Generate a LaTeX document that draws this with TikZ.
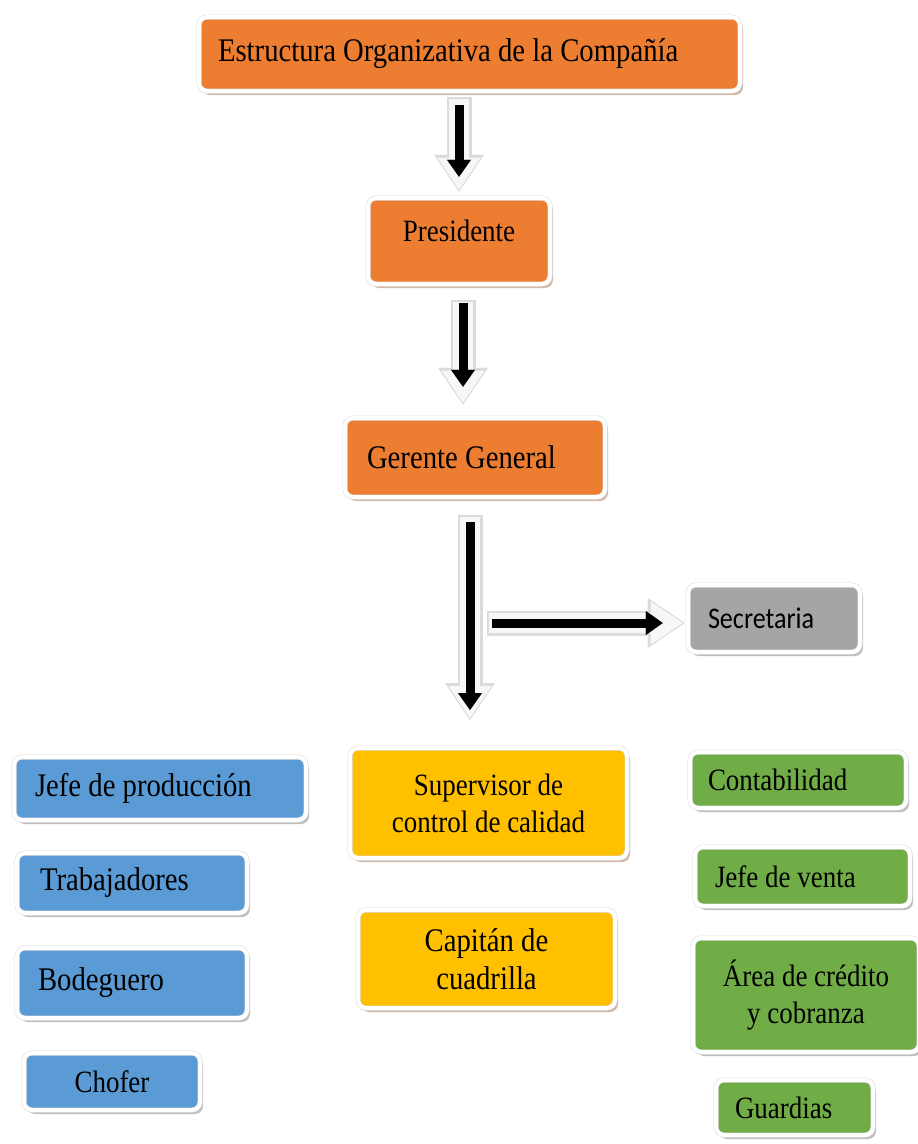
\documentclass[tikz,border=0pt]{standalone}
\usepackage{fontspec}
\setmainfont{Liberation Serif}[FakeStretch=0.87]
\newfontfamily\secfont{Carlito}[FakeStretch=0.87]
\usetikzlibrary{arrows.meta,shadows}
\definecolor{cOrange}{HTML}{ED7D31}
\definecolor{cGray}{HTML}{A5A5A5}
\definecolor{cGold}{HTML}{FFC000}
\definecolor{cBlue}{HTML}{5B9BD5}
\definecolor{cGreen}{HTML}{70AD47}
\definecolor{cShBrown}{HTML}{B08060}
\definecolor{cShGray}{HTML}{8A8A8A}
\newcommand\fsA{\fontsize{31}{37}\selectfont}
\newcommand\fsB{\fontsize{33}{38}\selectfont}
\begin{document}
\begin{tikzpicture}[x=1pt,y=-1pt,
  box/.style={rounded corners=8pt, draw=gray!30, double=white, double distance=4pt,
    line width=.5pt, inner sep=0pt, font=\fsA,
    drop shadow={shadow xshift=3pt, shadow yshift=-4pt, fill=#1, opacity=.55}},
  box/.default=cShGray,
  haloout/.style={line width=25pt, draw=gray!28,
    -{Triangle[width=50pt,length=37pt,line width=0.01pt]}},
  haloin/.style={line width=20pt, draw=gray!6,
    -{Triangle[width=43pt,length=32pt,line width=0.01pt]}},
  core/.style={line width=9pt, draw=black,
    -{Triangle[width=24pt,length=17pt,line width=0.01pt]}}]
\useasboundingbox (0,0) rectangle (918,1144);

% top chain
\node[box=cShBrown, fill=cOrange, minimum width=541pt, minimum height=74pt,
  text width=503pt, align=flush left, font=\fsB] (title) at (469.5,54)
  {Estructura Organizativa de la Compañía};
\node[box=cShBrown, fill=cOrange, minimum width=182pt, minimum height=86pt,
  align=flush center, text depth=21pt] (pres) at (459,241) {Presidente};
\node[box=cShBrown, fill=cOrange, minimum width=260pt, minimum height=79pt,
  text width=216pt, align=flush left, font=\fsB] (ger) at (475,457.5) {Gerente General};
\node[box, fill=cGray, minimum width=172pt, minimum height=67pt,
  text width=132pt, align=flush left, font={\secfont\fontsize{30}{36}\selectfont}] (sec) at (774,618.5) {Secretaria};

% middle column
\node[box=cShBrown, fill=cGold, minimum width=277pt, minimum height=110pt,
  align=flush center] (sup) at (488.5,803) {Supervisor de\\control de calidad};
\node[box=cShBrown, fill=cGold, minimum width=257pt, minimum height=98pt,
  align=flush center, font=\fsB] (cap) at (486.5,959) {Capitán de\\cuadrilla};

% left column
\node[box, fill=cBlue, minimum width=292pt, minimum height=63pt,
  text width=250pt, align=flush left, font=\fsB] (jp) at (160,788.5) {Jefe de producción};
\node[box, fill=cBlue, minimum width=230pt, minimum height=60pt,
  text width=184pt, align=flush left, font=\fsB] (trab) at (132,883) {Trabajadores};
\node[box, fill=cBlue, minimum width=230pt, minimum height=70pt,
  text width=188pt, align=flush left, font=\fsB] (bod) at (132,983) {Bodeguero};
\node[box, fill=cBlue, minimum width=176pt, minimum height=57pt,
  align=flush center] (chof) at (112,1081.5) {Chofer};

% right column
\node[box, fill=cGreen, minimum width=216pt, minimum height=56pt,
  text width=180pt, align=flush left] (cont) at (798,780) {Contabilidad};
\node[box, fill=cGreen, minimum width=215pt, minimum height=59pt,
  text width=175pt, align=flush left] (jv) at (802.5,876.5) {Jefe de venta};
\node[box, fill=cGreen, minimum width=226pt, minimum height=114pt,
  align=flush center] (area) at (806,995) {Área de crédito\\y cobranza};
\node[box, fill=cGreen, minimum width=157pt, minimum height=55pt,
  text width=119pt, align=flush left] (guard) at (794.5,1107.5) {Guardias};

% connectors
\coordinate (e3) at (470,720);
\coordinate (br) at (487,623);

\draw[haloout, shorten <=6pt, shorten >=6pt] (title.south -| pres.north) -- (pres.north);
\draw[haloin, shorten <=8pt, shorten >=8pt] (title.south -| pres.north) -- (pres.north);
\draw[core, shorten <=14pt, shorten >=21pt] (title.south -| pres.north) -- (pres.north);

\draw[haloout, shorten <=16pt, shorten >=13pt] ([xshift=4pt]pres.south) -- ([xshift=4pt]pres.south |- ger.north);
\draw[haloin, shorten <=18pt, shorten >=15pt] ([xshift=4pt]pres.south) -- ([xshift=4pt]pres.south |- ger.north);
\draw[core, shorten <=19pt, shorten >=31pt] ([xshift=4pt]pres.south) -- ([xshift=4pt]pres.south |- ger.north);

\draw[haloout, shorten <=18pt] (ger.south -| e3) -- (e3);
\draw[haloin, shorten <=20pt, shorten >=2pt] (ger.south -| e3) -- (e3);
\draw[haloout] (br) -- ([xshift=-3pt]br -| sec.west);
\draw[haloin, shorten <=2pt, shorten >=2pt] (br) -- ([xshift=-3pt]br -| sec.west);
\draw[core, shorten <=25pt, shorten >=10pt] (ger.south -| e3) -- (e3);
\draw[core, shorten <=5pt, shorten >=22pt] (br) -- ([xshift=-3pt]br -| sec.west);
\end{tikzpicture}
\end{document}
